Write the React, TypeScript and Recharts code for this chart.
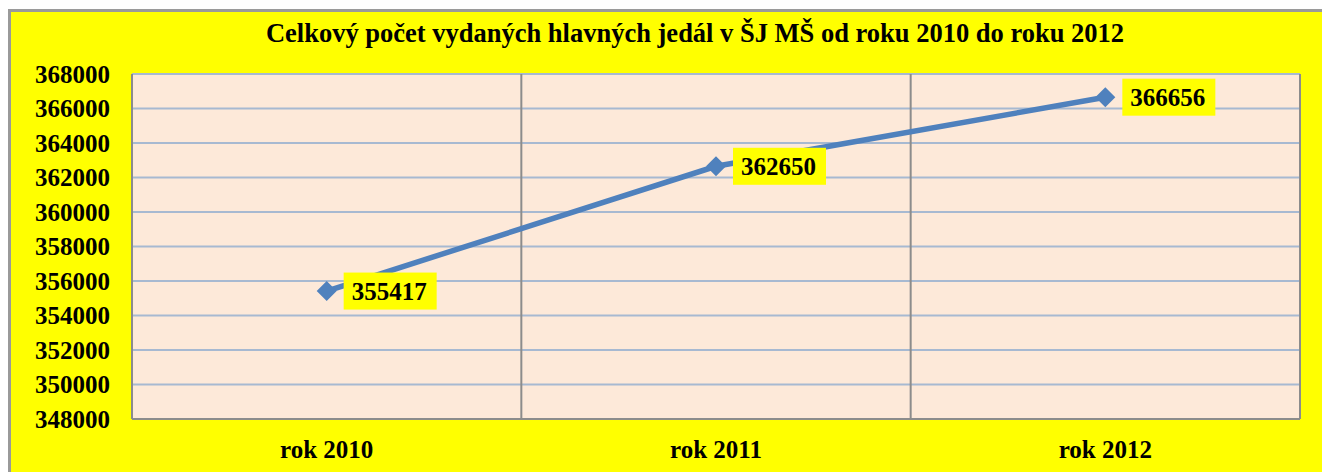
import { LineChart, Line, XAxis, YAxis, CartesianGrid, LabelList } from 'recharts';

const categories = ['rok 2010', 'rok 2011', 'rok 2012'];
const meals = [355417, 362650, 366656];
const yTicks = [348000, 350000, 352000, 354000, 356000, 358000, 360000, 362000, 364000, 366000, 368000];

const data = categories.map((name, i) => ({ name, value: meals[i] }));

const FONT = "'Liberation Serif', 'Times New Roman', serif";

const Diamond = (props: any) => {
  const { cx, cy } = props;
  if (cx == null || cy == null) return null;
  const r = 10;
  return (
    <polygon
      points={`${cx - r},${cy} ${cx},${cy - r} ${cx + r},${cy} ${cx},${cy + r}`}
      fill="#4F81BD"
    />
  );
};

const ValueLabel = (props: any) => {
  const { x, y, value } = props;
  return (
    <g>
      <rect x={x + 17} y={y - 18.5} width={93} height={37} fill="#FFFF00" />
      <text x={x + 25} y={y + 9} fontFamily={FONT} fontWeight="bold" fontSize={25} fill="#000">
        {value}
      </text>
    </g>
  );
};

export default function App() {
  return (
    <div style={{ position: 'relative', width: 1322, height: 472, overflow: 'hidden' }}>
      <style>{`body{margin:0;overflow:hidden;}`}</style>
      <div
        style={{
          position: 'absolute',
          left: 8,
          top: 9,
          width: 1330,
          height: 470,
          background: '#FFFF00',
          borderLeft: '3px solid #9a9a9a',
          borderTop: '3px solid #9a9a9a',
        }}
      />
      <div
        style={{
          position: 'absolute',
          left: 0,
          top: 17,
          width: 1390,
          textAlign: 'center',
          fontFamily: FONT,
          fontWeight: 'bold',
          fontSize: 26.5,
          lineHeight: '32px',
        }}
      >
        Celkový počet vydaných hlavných jedál v ŠJ MŠ od roku 2010 do roku 2012
      </div>
      <div style={{ position: 'absolute', left: 0, top: 0 }}>
        <LineChart width={1322} height={472} data={data} margin={{ top: 74, right: 22, bottom: 0, left: 0 }}>
          <CartesianGrid vertical={false} stroke="#A7B9D1" strokeWidth={2} fill="#FDE9D9" fillOpacity={1} />
          <CartesianGrid
            horizontal={false}
            stroke="#8c8c8c"
            strokeWidth={2}
            verticalCoordinatesGenerator={({ offset }: any) =>
              categories.map((_, i) => offset.left + (offset.width * (i + 1)) / categories.length)
            }
          />
          <XAxis
            dataKey="name"
            scale="band"
            height={53}
            axisLine={{ stroke: '#8c8c8c', strokeWidth: 2 }}
            tickLine={false}
            tickSize={0}
            tickMargin={21}
            tick={{ fontFamily: FONT, fontWeight: 'bold', fontSize: 25, fill: '#000' }}
          />
          <YAxis
            width={132}
            domain={[348000, 368000]}
            ticks={yTicks}
            interval={0}
            axisLine={{ stroke: '#8c8c8c', strokeWidth: 2 }}
            tickLine={false}
            tickSize={0}
            tickMargin={22}
            tick={{ fontFamily: FONT, fontWeight: 'bold', fontSize: 25, fill: '#000' }}
          />
          <Line
            type="linear"
            dataKey="value"
            stroke="#4F81BD"
            strokeWidth={5.5}
            dot={<Diamond />}
            activeDot={false}
            isAnimationActive={false}
          >
            <LabelList dataKey="value" content={<ValueLabel />} />
          </Line>
        </LineChart>
      </div>
    </div>
  );
}
